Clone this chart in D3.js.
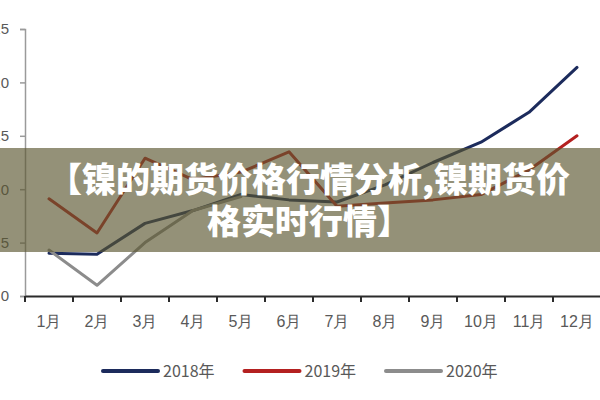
<!DOCTYPE html>
<html>
<head>
<meta charset="utf-8">
<script src="https://cdn.jsdelivr.net/npm/d3@7"></script>
<style>
    html, body { margin: 0; padding: 0; background: #fff; overflow: hidden; }
    svg { display: block; }
</style>
</head>
<body>
<div id="chart"></div>
<script>
// Dados do gráfico
const months = ["1月", "2月", "3月", "4月", "5月", "6月", "7月", "8月", "9月", "10月", "11月", "12月"];
const yTicks = [0, 5, 10, 15, 20, 25];
const seriesNames = ["2018年", "2019年", "2020年"];
const values2018 = [4.0, 3.9, 6.8, 8.0, 9.5, 9.0, 8.8, 10.4, 12.5, 14.4, 17.2, 21.4];
const values2019 = [9.1, 5.9, 12.9, 10.9, 11.6, 13.5, 8.4, 8.7, 9.0, 9.5, 11.8, 15.0];
const values2020 = [4.3, 1.0, 5.0, 8.0, 9.3];
const titleLines = ["【镍的期货价格行情分析,镍期货价", "格实时行情】"];

class LineChart {
    constructor(container) {
        this.container = container;
        this.width = 600;
        this.height = 400;
        this.margin = { top: 29, right: -1, bottom: 104, left: 25 };
        this.colors = ["#1c2b5c", "#b42020", "#8c8c8c"];
        this.initChart();
        this.drawLines();
        this.drawLegend();
        this.drawBanner();
    }

    initChart() {
        this.svg = d3.select(this.container)
            .append("svg")
            .attr("width", this.width)
            .attr("height", this.height)
            .style("font-family", "'Noto Sans CJK SC', 'Noto Sans', sans-serif");

        this.x = d3.scaleBand()
            .domain(months)
            .range([this.margin.left, this.width - this.margin.right]);

        this.y = d3.scaleLinear()
            .domain([0, 25])
            .range([this.height - this.margin.bottom, this.margin.top]);

        // Eixo Y
        const yAxis = this.svg.append("g")
            .attr("transform", `translate(${this.margin.left},0)`)
            .call(d3.axisLeft(this.y).tickValues(yTicks).tickSize(5).tickPadding(11));
        yAxis.select(".domain").attr("stroke", "#9a9a9a").attr("stroke-width", 1.5);
        yAxis.selectAll(".tick line").attr("stroke", "#9a9a9a").attr("stroke-width", 1.5);
        yAxis.selectAll(".tick text").attr("fill", "#595959").style("font-size", "15px");

        // Eixo X: rótulos no centro, marcas nos limites das categorias
        const base = this.height - this.margin.bottom;
        const xAxis = this.svg.append("g")
            .attr("transform", `translate(0,${base})`)
            .call(d3.axisBottom(this.x).tickSize(0).tickPadding(20));
        xAxis.select(".domain").attr("stroke", "#2b2b2b").attr("stroke-width", 2);
        xAxis.selectAll(".tick text").attr("fill", "#595959").style("font-size", "16px");

        const bounds = months.map(m => this.x(m)).concat([this.x.range()[1]]);
        this.svg.append("g")
            .selectAll("line")
            .data(bounds)
            .join("line")
            .attr("x1", d => d).attr("x2", d => d)
            .attr("y1", base).attr("y2", base + 6)
            .attr("stroke", "#2b2b2b")
            .attr("stroke-width", 2);
    }

    drawLines() {
        const half = this.x.bandwidth() / 2;
        const line = d3.line()
            .x((d, i) => this.x(months[i]) + half)
            .y(d => this.y(d));

        [values2018, values2019, values2020].forEach((vals, i) => {
            this.svg.append("path")
                .datum(vals)
                .attr("fill", "none")
                .attr("stroke", this.colors[i])
                .attr("stroke-width", 3)
                .attr("stroke-linejoin", "round")
                .attr("stroke-linecap", "round")
                .attr("d", line);
        });
    }

    drawLegend() {
        const legend = this.svg.append("g")
            .attr("transform", "translate(103,371)");

        const items = legend.selectAll("g")
            .data(seriesNames)
            .join("g")
            .attr("transform", (d, i) => `translate(${i * 141.5},0)`);

        items.append("line")
            .attr("x1", 0).attr("x2", 55)
            .attr("stroke", (d, i) => this.colors[i])
            .attr("stroke-width", 4)
            .attr("stroke-linecap", "round");

        items.append("text")
            .attr("x", 60)
            .attr("dy", "0.35em")
            .attr("fill", "#595959")
            .style("font-size", "16px")
            .text(d => d);
    }

    drawBanner() {
        // Faixa semitransparente com o título
        this.svg.append("rect")
            .attr("x", 0).attr("y", 148)
            .attr("width", this.width).attr("height", 104)
            .attr("fill", "rgb(90,86,48)")
            .attr("fill-opacity", 0.65);

        this.svg.append("g")
            .selectAll("text")
            .data(titleLines)
            .join("text")
            .attr("x", 309)
            .attr("y", (d, i) => 180 + i * 42)
            .attr("dy", "0.36em")
            .attr("text-anchor", "middle")
            .attr("fill", "#fff")
            .style("font-size", "34px")
            .style("font-weight", "900")
            .text(d => d);
    }
}

new LineChart(document.getElementById("chart"));
</script>
</body>
</html>
